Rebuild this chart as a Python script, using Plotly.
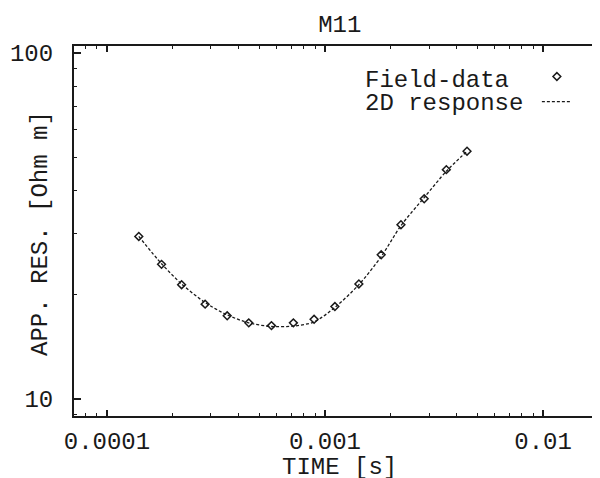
import plotly.graph_objects as go

# Data
time_s = [1.40e-4, 1.78e-4, 2.20e-4, 2.82e-4, 3.56e-4, 4.47e-4, 5.68e-4, 7.16e-4,
          8.91e-4, 1.11e-3, 1.43e-3, 1.81e-3, 2.23e-3, 2.85e-3, 3.60e-3, 4.48e-3]
field_data = [29.5, 24.5, 21.4, 18.8, 17.4, 16.6, 16.3, 16.6,
              17.0, 18.5, 21.5, 26.1, 31.9, 37.9, 46.0, 52.0]
response_2d = [29.5, 24.6, 21.5, 19.0, 17.5, 16.6, 16.2, 16.25,
               16.7, 18.4, 21.4, 25.8, 31.7, 38.2, 45.5, 52.0]

x_major = [1e-4, 1e-3, 1e-2]
x_major_text = ["0.0001", "0.001", "0.01"]
x_minor = [m * 10.0 ** e for e in (-5, -4, -3, -2) for m in range(2, 10)]
y_major = [10, 100]
y_major_text = ["10", "100"]
y_minor = [m * 10.0 ** e for e in (0, 1) for m in range(2, 10)]

MONO = "Liberation Mono"
INK = "#1a1a1a"
FS = 24

fig = go.Figure()
fig.add_trace(go.Scatter(
    x=time_s, y=field_data, mode="markers", name=" ",
    marker=dict(symbol="diamond-open", size=6, color=INK, line=dict(width=1.5, color=INK)),
    showlegend=True, legendrank=1,
))
fig.add_trace(go.Scatter(
    x=time_s, y=response_2d, mode="lines", name=" ",
    line=dict(color=INK, width=1.3, dash="3px,2px", shape="spline", smoothing=0.8),
    showlegend=True, legendrank=2,
))

def txt(text, x, y, angle=0):
    return dict(text=text, xref="paper", yref="paper", x=x, y=y,
                xanchor="center" if angle else "left", yanchor="middle",
                textangle=angle, showarrow=False,
                font=dict(family=MONO, size=FS, color=INK))

fig.update_layout(
    width=600, height=478,
    margin=dict(l=66, r=8, t=38, b=70, autoexpand=False),
    paper_bgcolor="white", plot_bgcolor="white",
    font=dict(family=MONO, size=FS, color=INK),
    title=dict(text="M11", x=0.553, xanchor="center", y=0.9665, yanchor="middle",
               font=dict(family=MONO, size=FS, color=INK)),
    showlegend=True,
    legend=dict(x=0.88, y=0.965, xanchor="left", yanchor="top", bgcolor="rgba(0,0,0,0)",
                font=dict(family=MONO, size=17), itemwidth=30, tracegroupgap=0),
    annotations=[
        txt("Field-data", 0.549, 0.908),
        txt("2D response", 0.549, 0.844),
        dict(text="TIME [s]", xref="paper", yref="paper", x=0.505, y=-0.138,
             xanchor="center", yanchor="middle", showarrow=False,
             font=dict(family=MONO, size=FS, color=INK)),
        txt("APP. RES. [Ohm m]", -0.0627, 0.492, angle=-90),
    ],
)

fig.update_xaxes(
    type="log", range=[-4.151, -1.739], automargin=False,
    showline=True, linecolor=INK, linewidth=2, mirror="allticks",
    showgrid=False, zeroline=False,
    tickmode="array", tickvals=x_major, ticktext=x_major_text,
    ticks="inside", ticklen=6, tickwidth=1.5, tickcolor=INK,
    ticklabelstandoff=2,
    tickfont=dict(family=MONO, size=FS, color=INK),
    minor=dict(tickmode="array", tickvals=x_minor, ticks="inside", ticklen=3,
               tickwidth=1.2, tickcolor=INK, showgrid=False),
)
fig.update_yaxes(
    type="log", range=[0.951, 2.020], automargin=False,
    showline=True, linecolor=INK, linewidth=2, mirror=False,
    showgrid=False, zeroline=False,
    tickmode="array", tickvals=y_major, ticktext=y_major_text,
    ticks="inside", ticklen=7, tickwidth=1.5, tickcolor=INK,
    ticklabelstandoff=14,
    tickfont=dict(family=MONO, size=FS, color=INK),
    minor=dict(tickmode="array", tickvals=y_minor, ticks="inside", ticklen=3,
               tickwidth=1.2, tickcolor=INK, showgrid=False),
)

fig.write_html("out.html")
